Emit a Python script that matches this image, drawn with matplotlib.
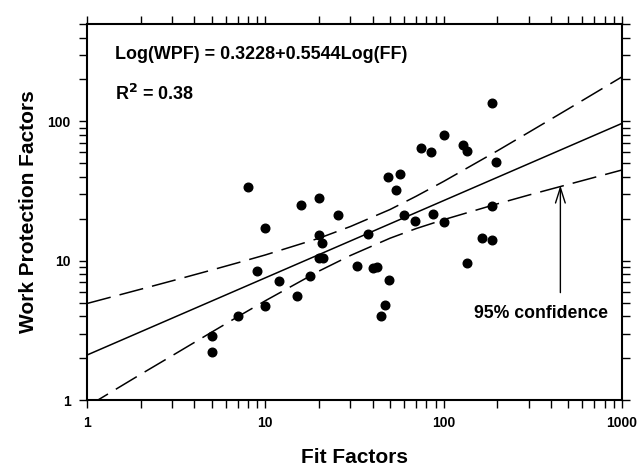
import numpy as np
import matplotlib
matplotlib.use("Agg")
import matplotlib.pyplot as plt

plt.rcParams['font.family'] = ['Liberation Sans', 'DejaVu Sans']
plt.rcParams['font.weight'] = 'bold'

# scatter data
fit_factors = [5.0, 5.0, 7.0, 8.0, 9.0, 10.0, 10.0, 11.9, 15.0, 15.9, 17.9,
               19.9, 19.9, 20.0, 20.8, 21.0, 25.6, 32.7, 37.7, 39.9, 42.0,
               44.5, 46.7, 48.4, 49.4, 54.3, 56.9, 60.2, 68.8, 74.3, 85.3,
               87.5, 100.0, 100.9, 128.3, 135.0, 135.1, 164.8, 185.8, 187.5,
               185.8, 195.5]
wpf = [2.9, 2.2, 4.0, 33.7, 8.4, 4.75, 17.1, 7.1, 5.6, 25.3, 7.8,
       28.1, 15.4, 10.5, 13.3, 10.5, 21.2, 9.1, 15.6, 8.85, 8.95,
       4.04, 4.77, 40.0, 7.3, 32.3, 41.8, 21.2, 19.4, 63.9, 60.2,
       21.7, 79.3, 19.1, 67.2, 61.1, 9.6, 14.6, 136.0, 14.0,
       24.6, 51.5]

# regression coefficients from the chart text
intercept = 0.3228
slope = 0.5544

# 95% confidence band
band_x = [1, 2, 3, 5, 7, 10, 20, 30, 50, 70, 100, 200, 300, 500, 1000]
band_upper = [4.93, 6.24, 7.17, 8.57, 9.66, 11.0, 14.5, 17.6, 23.3, 29.0,
              37.1, 61.5, 83.5, 123, 209]
band_lower = [0.897, 1.53, 2.08, 3.07, 3.96, 5.16, 8.43, 10.9, 14.5, 17.0,
              19.7, 25.6, 29.6, 35.3, 44.8]

fig = plt.figure(figsize=(6.38, 4.69), dpi=100)
ax = fig.add_axes([0.1364, 0.1471, 0.8386, 0.8017])

xs = np.array([1, 1000])
ax.plot(xs, 10 ** (intercept + slope * np.log10(xs)), color='black', lw=1.1)
ax.plot(band_x, band_upper, color='black', lw=1.1, dashes=(16, 6))
ax.plot(band_x, band_lower, color='black', lw=1.1, dashes=(16, 6))
ax.plot(fit_factors, wpf, 'o', color='black', ms=6.2, mec='black')

ax.set_xscale('log')
ax.set_yscale('log')
ax.set_xlim(1, 1000)
ax.set_ylim(1, 500)

ax.set_xticks([1, 10, 100, 1000])
ax.set_xticklabels(['1', '10', '100', '1000'])
ax.set_yticks([1, 10, 100])
ax.set_yticklabels(['1', '10', '100'])
ax.tick_params(which='both', direction='out', top=True, right=True,
               length=5.8, width=1.0, labelsize=10, pad=6)

for sp in ax.spines.values():
    sp.set_linewidth(1.5)

ax.set_xlabel('Fit Factors', fontsize=15, fontweight='bold', labelpad=13)
ax.set_ylabel('Work Protection Factors', fontsize=15, fontweight='bold', labelpad=7)

ax.text(0.052, 0.918, 'Log(WPF) = 0.3228+0.5544Log(FF)', transform=ax.transAxes,
        fontsize=12.9, fontweight='bold', va='center')
ax.text(0.052, 0.814, r'R$^\mathbf{2}$ = 0.38', transform=ax.transAxes,
        fontsize=12.9, fontweight='bold', va='center')

ax.annotate('', xy=(451, 34.7), xytext=(451, 5.9),
            arrowprops=dict(arrowstyle='->,head_length=1.1,head_width=0.35',
                            color='black', lw=1.0, shrinkA=0, shrinkB=0))
ax.text(352, 4.2, '95% confidence', fontsize=12.7, fontweight='bold',
        ha='center', va='center')

plt.savefig('out.png', dpi=100)
